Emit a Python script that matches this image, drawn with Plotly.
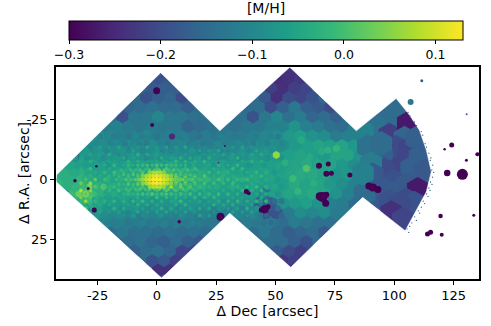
import plotly.graph_objects as go

_ = None

# footprint outline of the three pointings, [arcsec]
edge_dec = [-42.3, 1.6, 26.5, 56.0, 84.0, 100.8, 106.4, 110.6, 113.5, 115.6, 113.5, 109.3, 104.6, 86.7, 56.4, 30.7, 2.0, -42.3]
edge_ra = [-1.9, -44.5, -20.3, -46.8, -20.3, -33.8, -26.9, -20.6, -12.3, -3.3, 5.1, 12.7, 21.3, 7.4, 36.5, 14.0, 41.0, 1.0]

# outer Voronoi bins, [M/H] in units of 0.01 dex, rows on a staggered grid
coarse_ra = [-46, -42, -38, -34, -30, -26, -22, -18, -14, -10, -6, -2, 2, 6, 10, 14, 18, 22, 26, 30, 34, 38]
coarse_first = [19, 8, 8, 7, 6, 5, 4, 3, 2, 2, 1, 0, 0, 1, 2, 3, 4, 5, 6, 6, 8, 8]
coarse_rows = [
    [-24, -24],
    [-19, -18, _, _, _, _, _, _, _, _, -25, -24, -23],
    [-18, -17, -17, _, _, _, _, _, _, _, -22, -24, -22, -21],
    [-19, -17, -16, -20, _, _, _, _, _, _, -18, -24, -20, -21, -19],
    [-16, -15, -14, -15, -15, -17, _, _, _, _, _, -15, -20, -17, -13, -17, -18, -20],
    [-19, -13, -13, -10, -13, -13, -14, -14, _, _, -14, -19, -13, -10, -14, -12, -16, -15, -17],
    [-12, -11, -12, -13, -12, -13, -13, -16, -15, -14, -13, -14, -13, -13, -11, -11, -8, -11, -12, -14, -15, -12],
    [-9, -10, -11, -11, -10, -12, -11, -12, -13, -12, -13, -12, -12, -11, -10, -9, -7, -6, -8, -9, -12, -11, -11],
    [-8, -8, -9, -9, -8, -9, -9, -10, -10, -10, -10, -11, -10, -10, -9, -9, -8, -9, -7, -6, -5, -6, -5, -7, -10],
    [-7, -7, -8, -8, -7, -8, -8, -8, -9, -9, -8, -8, -9, -8, -7, -7, -6, -6, -5, -6, -7, -5, -5, -8, -11],
    [-5, -6, -6, -6, -6, -6, -6, -6, -6, -6, -6, -6, -6, -6, -7, -6, -6, -6, -6, -5, -4, -5, -5, -7, -9, -10],
    [-3, -4, -4, -5, -5, -5, -5, -4, -4, -4, -4, -4, -5, -5, -5, -5, -5, -5, -5, -5, -4, -4, -5, -8, -7, -10, -12],
    [-2, -3, -2, -3, -5, -5, -5, -4, -4, -4, -4, -5, -5, -5, -6, -6, -6, -6, -6, -6, -4, -5, -5, -7, -9, -11, -13],
    [-2, 0, -3, -5, -5, -6, -6, -6, -6, -6, -6, -6, -6, -7, -7, -7, -14, -6, -5, -5, -4, -5, -8, -11, -10],
    [-4, -6, -7, -7, -7, -8, -8, -8, -8, -8, -8, -8, -8, -9, -8, -18, -18, -8, -7, -6, -8, -11, -12],
    [-8, -9, -9, -9, -10, -10, -10, -10, -10, -11, -11, -12, -10, -10, -20, -19, -12, -9, -10, -9, -12, -12],
    [-10, -11, -12, -12, -12, -12, -12, -12, -13, -13, _, _, -12, -12, -12, -15, -12, -13, -14, -14],
    [-13, -14, -14, -15, -14, -15, -14, -15, _, _, _, _, -13, -15, -17, -16, -15, -18],
    [-15, -14, -16, -17, -15, -17, -18, _, _, _, _, _, -15, -15, -17, -19],
    [-17, -15, -14, -16, -21, -21, _, _, _, _, _, _, -18, -20, -22, -20],
    [-19, -18, -22, _, _, _, _, _, _, _, _, -23, -22],
    [-24, -24, _, _, _, _, _, _, _, _, _, -25],
]

# smaller bins of the central band, dec -36 to 51 in steps of 3
mid_ra = [-18, -15, -12, -9, -6, -3, 0, 3, 6, 9, 12, 15, 18]
mid_rows = [
    [-9, -9, -9, -10, -11, -10, -12, -11, -13, -10, -12, -11, -13, -12, -14, -12, -11, -13, -14, -12, -13, -11, -12, -13, -12, -11, -12, -10, -11, -12],
    [-9, -8, -9, -10, -9, -11, -10, -12, -10, -11, -12, -9, -11, -13, -11, -10, -12, -11, -13, -12, -10, -12, -11, -10, -11, -12, -10, -11, -9, -10],
    [-8, -8, -7, -9, -8, -10, -9, -8, -10, -9, -11, -10, -8, -10, -11, -9, -10, -8, -11, -10, -9, -11, -9, -10, -8, -10, -9, -8, -9, -9],
    [-7, -6, -8, -7, -9, -8, -7, -9, -7, -8, -10, -7, -9, -8, -7, -8, -9, -7, -9, -8, -8, -9, -7, -9, -8, -7, -8, -9, -7, -8],
    [-5, -6, -6, -7, -6, -8, -6, -7, -5, -7, -6, -8, -5, -7, -4, -6, -7, -5, -7, -6, -8, -6, -8, -6, -7, -8, -6, -7, -6, -5],
    [-4, -3, -5, -6, -5, -6, -4, -5, -6, -4, -5, -3, -4, -2, -3, -4, -3, -5, -4, -6, -5, -4, -6, -5, -7, -5, -6, -5, -7, -6],
    [-3, -2, -3, -4, -5, -3, -5, -4, -3, -4, -2, -3, -1, 0, -1, 1, -1, -2, -3, -2, -4, -3, -5, -4, -3, -5, -4, -6, -5, -7],
    [-2, -1, 4, -2, 1, -3, -4, -3, -5, -3, -4, -2, -3, -1, -2, -3, -2, -4, -3, -5, -4, -6, -4, -5, -6, -5, -7, -6, -5, -7],
    [-1, 3, 5, 0, -3, -5, -4, -6, -4, -5, -6, -4, -5, -4, -5, -6, -5, -6, -7, -5, -6, -7, -6, -7, -8, -6, -7, -8, -6, -8],
    [_, -2, -1, -4, -5, -6, -7, -6, -8, -6, -7, -8, -7, -8, -6, -7, -8, -7, -9, -8, -7, -9, -8, -7, -9, -8, -9, -14, -15, -13],
    [_, _, -4, -4, -6, -8, -7, -9, -8, -7, -9, -10, -8, -9, -8, -10, -9, -8, -10, -9, -11, -9, -10, -9, -11, -10, -9, -17, -18, -15],
    [_, _, _, -7, -9, -10, -9, -11, -10, -12, -10, -11, -9, -11, -12, -10, -11, -12, -10, -12, -11, -12, -10, -11, -12, -10, -13, -18, -19, -16],
    [_, _, _, _, -10, -11, -12, -11, -13, -12, -11, -13, -12, -11, -13, -12, -13, -11, -12, -13, _, _, _, _, _, -12, -13, -14, -15, -14],
]

# speckle of tiny bins across the band, dec -32 to 46 in steps of 2
speck_ra = [-13.5, -10.5, -7.5, -4.5, -1.5, 1.5, 4.5, 7.5, 10.5, 13.5]
speck_rows = [
    [-10, -7, -11, -8, -6, -10, -7, -9, -5, -8, -11, -6, -8, -10, -5, -9, -7, -11, -6, -9, -7, -10, -5, -8, -11, -6, -9, -7, -10, -5, -8, -11, -7, -9, -6, -10, -8, -5, -9, -7],
    [-7, -9, -5, -8, -6, -9, -4, -7, -10, -5, -8, -6, -3, -8, -5, -9, -6, -4, -8, -6, -9, -4, -7, -5, -9, -6, -8, -4, -7, -9, -5, -8, -6, -3, -7, -9, -5, -7, -4, -8],
    [-5, -7, -3, -6, -8, -4, -6, -2, -7, -5, -3, -7, -4, -1, -6, -3, -5, -2, -6, -4, -2, -5, -3, -7, -4, -6, -2, -5, -7, -3, -6, -4, -7, -2, -5, -8, -3, -6, -4, -7],
    [-3, -5, -1, -4, -6, -2, -4, 0, -5, -2, -4, -1, -3, 1, -2, -4, 0, -2, 1, -1, -3, 0, -2, -4, -1, -3, -5, -1, -4, -2, -5, -3, -1, -6, -2, -4, -6, -2, -5, -3],
    [-2, 0, -3, 2, -4, -1, -3, -5, -1, -3, 0, -2, 1, -1, 2, 0, 3, 1, 4, 6, 4, 2, 3, 0, 2, -1, 1, -2, -4, 0, -3, -1, -4, -2, -5, -1, -3, -5, -2, -4],
    [3, -2, 6, 1, -3, 0, -4, -1, -3, -5, -1, -2, 1, 0, 3, 2, 5, 3, 6, 8, 5, 3, 4, 1, 2, -1, 0, -3, -1, -4, -2, -5, -1, -3, -6, -2, -4, -1, -5, -3],
    [8, 2, 5, -1, -3, -5, -2, -4, 0, -3, -1, -4, -2, 0, -3, 1, -1, -2, 1, -1, 0, 2, -2, 0, -3, -1, -4, -2, -5, -1, -4, -2, -5, -3, -1, -6, -3, -5, -2, -4],
    [4, 6, 1, -2, -5, -3, -6, -2, -5, -3, -6, -2, -4, -1, -5, -3, -1, -4, -2, -5, -3, -1, -4, -6, -2, -5, -3, -6, -2, -4, -7, -3, -5, -2, -6, -4, -7, -3, -5, -2],
    [-1, 2, -3, -6, -4, -8, -5, -3, -7, -4, -6, -8, -3, -6, -4, -7, -5, -3, -8, -5, -4, -7, -3, -6, -8, -4, -7, -5, -3, -8, -5, -7, -4, -6, -8, -3, -6, -8, -12, -13],
    [_, _, -6, -8, -5, -9, -7, -10, -6, -8, -11, -7, -5, -9, -7, -10, -6, -8, -5, -10, -7, -9, -6, -11, -8, -5, -10, -7, -9, -6, -11, -8, -6, -10, -7, -9, -6, -11, -14, -15],
]

# fine bins around the bulge, dec -18 to 18 in steps of 2
fine_ra = [-6, -4, -2, 0, 2, 4, 6]
fine_rows = [
    [_, _, _, -2, -4, -1, -2, 0, -2, 1, -1, 0, -2, -1, -3, -2, _, _, _],
    [_, -2, -4, -1, -2, 0, -2, 1, 0, 2, 1, 0, 1, -1, -2, 0, -3, -2, _],
    [-2, -3, 0, -1, 1, 0, 2, 3, 4, 5, 4, 3, 2, 2, 0, -1, 0, -2, -3],
    [-1, -3, 1, 0, 2, 2, 3, 5, 6, 7, 6, 5, 3, 2, 3, 0, 1, -2, -1],
    [-3, -1, -2, 1, 0, 2, 3, 4, 5, 6, 4, 3, 2, 1, 2, 0, -1, -1, -3],
    [_, -3, -1, -2, 0, 1, 0, 2, 1, 3, 1, 2, 0, -1, 1, -1, -2, -3, _],
    [_, _, _, -2, -3, -1, 0, -1, 1, -1, 0, 1, -1, -2, -1, -3, _, _, _],
]

# nucleus, dec -7.5 to 7.5 in steps of 1.5
core_ra = [-3, -1.5, 0, 1.5, 3]
core_rows = [
    [_, _, _, 5, 7, 8, 7, 5, _, _, _],
    [_, 4, 7, 9, 11, 12, 11, 9, 7, 4, _],
    [3, 6, 9, 11, 13, 13, 13, 11, 9, 6, 3],
    [_, 5, 7, 10, 12, 13, 12, 10, 7, 5, _],
    [_, _, _, 6, 8, 9, 8, 6, _, _, _],
]

# the few bright bins of the middle pointing
bright_dec = [50.3, 63, 57.3, 59.4, 75.6, 72, 69.3, 60.8, 64.4, 66, 54]
bright_ra = [-10.2, -4.6, -0.5, 5, -13, -12.3, -11.6, -16.5, -9.5, 1.5, -7]
bright_mh = [6, 1, -1, -2, -2, -3, -4, -4, -4, -3, -3]

# large bins of the outermost pointing
big_dec = [100.8, 91.7, 86.8, 98, 105.7, 104.3, 100.8, 106, 109.2, 110.6, 94.9, 88.9, 94.5, 101.5, 95.9, 107.1, 112.7, 90.3, 91, 100.1, 105, 109.9, 95.9, 100.1, 105, 108.5, 93.1, 98, 102.2, 98.7, 103.6, 87.5, 86.8]
big_ra = [-30.4, -22.7, -19.9, -18.5, -23.4, -17.2, -13.4, -12.6, -17.2, -9.5, -9.5, -13.7, -15, -4.7, -4, -4.7, -3.3, -6.7, -1.9, 0.9, 2.3, 4.1, 4.4, 5.8, 8.5, 9.9, 7.1, 9.2, 10.6, 13.8, 16.6, 5.8, -2.6]
big_mh = [-15, -14, -11, -22, -27, -16, -20, -21, -17, -17, -17, -14, -15, -21, -20, -17, -18, -12, -18, -19, -18, -27, -18, -18, -20, -19, -18, -19, -20, -24, -21, -15, -11]

# bins at the colour limit inside the footprint (masked stars)
hole_dec = [-0.1, -2, 6.4, -25.5, -34.5, -28.9, -26.4, 9.4, 26.8, 37.7, 38.7, 28.6, 26, 68.3, 72.2, 71.4, 73.5, 81.3, 89.3, 91, 93.1, 69.7, 68.6, 71.1, 71.4, 45.4, 46.8, 44]
hole_ra = [-37, -22.7, -18, -5.6, 0.5, 3.7, 12.7, 17.6, 15.5, 5, 5.7, -14, -7, -5.8, -6.5, -2.4, -2.6, -1.9, 2.7, 3.3, 4.1, 7.2, 6.9, 9.9, 6.3, 12.3, 11.3, 12.7]
hole_mh = [-30, -30, -25, -30, -30, -30, -30, -30, -30, -30, -30, -29, -29, -30, -30, -30, -30, -30, -30, -30, -30, -30, -30, -30, -30, -30, -30, -30]
hole_px = [7, 4, 6, 2.5, 3.5, 3, 5, 3.5, 8, 5, 4, 2, 1.5, 6, 5, 6, 5, 5, 7, 8, 7, 10, 8, 7, 6, 8, 5, 5]

# detached islands right of the footprint
isle_dec = [111.6, 106.9, 130.5, 124.2, 121.2, 135, 130.4, 122.3, 128.7, 119.5, 133.5, 114, 115.3, 120]
isle_ra = [-41.2, -32.3, -27.2, -14.4, -12.6, -10.6, -8.1, -2.8, -2.2, 15.2, 14.8, 22.7, 21.9, 23]
isle_mh = [-17, -13, -17, -30, -30, -30, -30, -30, -30, -30, -30, -30, -30, -30]
isle_px = [3, 6, 2, 5, 2.5, 4, 3, 6.5, 11, 4.5, 3, 5, 5, 4]

# single spaxels scattered along the outer edge
spray_dec = [105.8, 106.6, 108.5, 109.4, 111.4, 112, 113, 113.6, 114.6, 115.4, 115.2, 116.2, 115.8, 116.6, 116.1, 115.3, 115.9, 114.6, 115.1, 113.6, 114.2, 112.2, 112.8, 111.4, 110.1, 110.7, 108.6, 109.3, 107.4, 106.5, 105.4, 106.1]
spray_ra = [-28, -26.5, -24, -22.5, -20, -18.5, -15, -13.5, -11, -9, -8, -6, -4, -3, -1, 1, 2, 3.5, 4.5, 6, 7, 9, 10, 11.5, 13, 14, 15.5, 17, 18, 19.5, 20.5, 22]

colorbar_ticks = [-0.3, -0.2, -0.1, 0.0, 0.1]
dec_ticks = [-25, 0, 25, 50, 75, 100, 125]
dec_labels = ["-25", "0", "25", "50", "75", "100", "125"]
ra_ticks = [-25, 0, 25]
ra_labels = ["-25", "0", "25"]

DEC_RANGE = [-42.5, 135.7]
RA_RANGE = [41.4, -46.9]
FONT = "DejaVu Sans"


def grid_points(ras, rows, dec0, step, firsts=None, stagger=0.0, zigzag=0.0):
    xs, ys, zs = [], [], []
    for n, (ra, row) in enumerate(zip(ras, rows)):
        first = firsts[n] if firsts else 0
        for i, val in enumerate(row):
            if val is None:
                continue
            xs.append(dec0 + step * (first + i) + (stagger if n % 2 else 0.0))
            ys.append(ra + (zigzag if i % 2 else 0.0))
            zs.append(val / 100)
    return xs, ys, zs


def bins(xs, ys, zs, size, symbol="hexagon"):
    return go.Scatter(x=xs, y=ys, mode="markers", hoverinfo="skip", showlegend=False,
                      marker=dict(symbol=symbol, size=size, color=zs, coloraxis="coloraxis", opacity=1, line_width=0))


fig = go.Figure()
fig.add_trace(go.Scatter(x=edge_dec, y=edge_ra, mode="lines", fill="toself", fillcolor="#2f6c8e",
                         line_width=0, hoverinfo="skip", showlegend=False))
fig.add_trace(bins(*grid_points(coarse_ra, coarse_rows, -42, 5, coarse_first, 2.5), 14))
fig.add_trace(bins(*grid_points(mid_ra, mid_rows, -36, 3, None, 1.5), 7))
fig.add_trace(bins(*grid_points(speck_ra, speck_rows, -32, 2, None, 0.0, 1.5), 4))
fig.add_trace(bins(*grid_points(fine_ra, fine_rows, -18, 2, None, 1.0), 3.5))
fig.add_trace(bins(*grid_points(core_ra, core_rows, -7.5, 1.5), 4.5))
fig.add_trace(bins(bright_dec, bright_ra, [v / 100 for v in bright_mh], 8))
fig.add_trace(bins(big_dec, big_ra, [v / 100 for v in big_mh], 25))
fig.add_trace(bins(hole_dec, hole_ra, [v / 100 for v in hole_mh], hole_px, "circle"))

# white keyhole polygon trims the hexagons back to the footprint
mask_dec = [DEC_RANGE[0], DEC_RANGE[0], DEC_RANGE[1], DEC_RANGE[1], DEC_RANGE[0], DEC_RANGE[0]] + edge_dec[::-1] + [DEC_RANGE[0]]
mask_ra = [0, RA_RANGE[1], RA_RANGE[1], RA_RANGE[0], RA_RANGE[0], 0] + edge_ra[::-1] + [0]
fig.add_trace(go.Scatter(x=mask_dec, y=mask_ra, mode="lines", fill="toself", fillcolor="white",
                         line=dict(width=0.5, color="white"), hoverinfo="skip", showlegend=False))

fig.add_trace(bins(isle_dec, isle_ra, [v / 100 for v in isle_mh], isle_px, "circle"))
fig.add_trace(go.Scatter(x=spray_dec, y=spray_ra, mode="markers", hoverinfo="skip", showlegend=False,
                         marker=dict(size=1.3, color="#35608d", line_width=0)))

axis_style = dict(showgrid=False, zeroline=False, showline=True, mirror=True, linecolor="black", linewidth=1.5,
                  ticks="outside", ticklen=4, tickwidth=1, tickcolor="black", tickfont=dict(size=13))
fig.update_xaxes(range=DEC_RANGE, tickvals=dec_ticks, ticktext=dec_labels,
                 title=dict(text="Δ Dec [arcsec]", font=dict(size=14)), **axis_style)
fig.update_yaxes(range=RA_RANGE, tickvals=ra_ticks, ticktext=ra_labels, **axis_style)
fig.update_layout(
    width=491, height=326,
    margin=dict(l=56, r=11.5, t=67, b=47, autoexpand=False),
    paper_bgcolor="white", plot_bgcolor="white",
    font=dict(family=FONT, color="black", size=12),
    annotations=[dict(text="Δ R.A. [arcsec]", textangle=-90, xref="paper", yref="paper", x=-0.099, y=0.5,
                      showarrow=False, font=dict(size=14))],
    coloraxis=dict(
        colorscale="Viridis", cmin=-0.3, cmax=0.13,
        colorbar=dict(
            orientation="h", x=0.4965, xanchor="center", y=1.019, yanchor="bottom",
            len=0.9315, thickness=19, outlinewidth=1, outlinecolor="black", xpad=0, ypad=0,
            tickvals=colorbar_ticks, tickformat=".1f", ticks="outside", ticklen=4, tickcolor="black",
            tickfont=dict(size=12.5), title=dict(text="[M/H]", side="top", font=dict(size=14)),
        ),
    ),
)

fig.write_html("out.html", config={"displayModeBar": False},
               post_script="document.body.style.margin='0';")
